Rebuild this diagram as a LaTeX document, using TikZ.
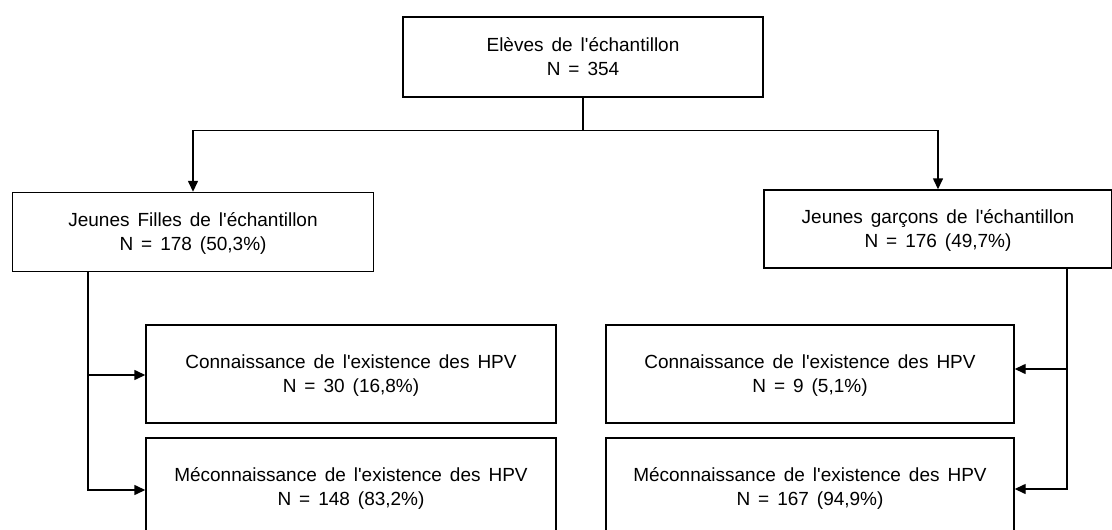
\documentclass[tikz,border=0pt]{standalone}
\usepackage{fontspec}
\setmainfont{Liberation Sans}
\usetikzlibrary{arrows.meta}

\newcommand{\boitefont}{\fontsize{19}{24}\selectfont\spaceskip 0.42em plus 0.1em\relax}

\tikzset{
  boite/.style={draw, line width=1.4pt, align=center, inner sep=0pt,
    text depth=0pt, font=\boitefont},
  fleche/.style={line width=1.4pt, -{Triangle[length=11pt,width=10pt]}}
}

\begin{document}
\begin{tikzpicture}[x=1pt,y=-1pt]
  %cadre de l'image
	\useasboundingbox (0,0) rectangle (1112,530);
	\clip (0,0) rectangle (1112,530);

  %boite du haut
	\node[boite, minimum width=360pt, minimum height=80pt] (eleves) at (583,57)
	  {Elèves de l\textquotesingle échantillon\\N = 354};

  %filles et garcons
	\node[boite, minimum width=361pt, minimum height=79pt] (filles) at (193,232)
	  {Jeunes Filles de l\textquotesingle échantillon\\N = 178 (50,3\%)};
	\node[boite, minimum width=348pt, minimum height=78pt] (garcons) at (938,229)
	  {Jeunes garçons de l\textquotesingle échantillon\\N = 176 (49,7\%)};

  %connaissance, cote filles
	\node[boite, minimum width=410pt, minimum height=98pt] (fconn) at (351,374)
	  {Connaissance de l\textquotesingle existence des HPV\\N = 30 (16,8\%)};
	\node[boite, minimum width=410pt, minimum height=98pt] (fmeconn) at (351,487)
	  {Méconnaissance de l\textquotesingle existence des HPV\\N = 148 (83,2\%)};

  %connaissance, cote garcons
	\node[boite, minimum width=408pt, minimum height=98pt] (gconn) at (810,374)
	  {Connaissance de l\textquotesingle existence des HPV\\N = 9 (5,1\%)};
	\node[boite, minimum width=408pt, minimum height=98pt] (gmeconn) at (810,487)
	  {Méconnaissance de l\textquotesingle existence des HPV\\N = 167 (94,9\%)};

  %fleches du haut
	\draw[fleche] (eleves.south) -- ++(0,33) -| (filles.north);
	\draw[fleche] (eleves.south) -- ++(0,33) -| (garcons.north);

  %fleches des cotes
	\coordinate (fstem) at (88,271);
	\coordinate (gstem) at (1067,268);
	\draw[fleche] (fstem) |- ([yshift=-1pt]fconn.west);
	\draw[fleche] (fstem) |- ([yshift=-3pt]fmeconn.west);
	\draw[fleche] (gstem) |- ([yshift=5pt]gconn.east);
	\draw[fleche] (gstem) |- ([yshift=-2pt]gmeconn.east);
\end{tikzpicture}
\end{document}
